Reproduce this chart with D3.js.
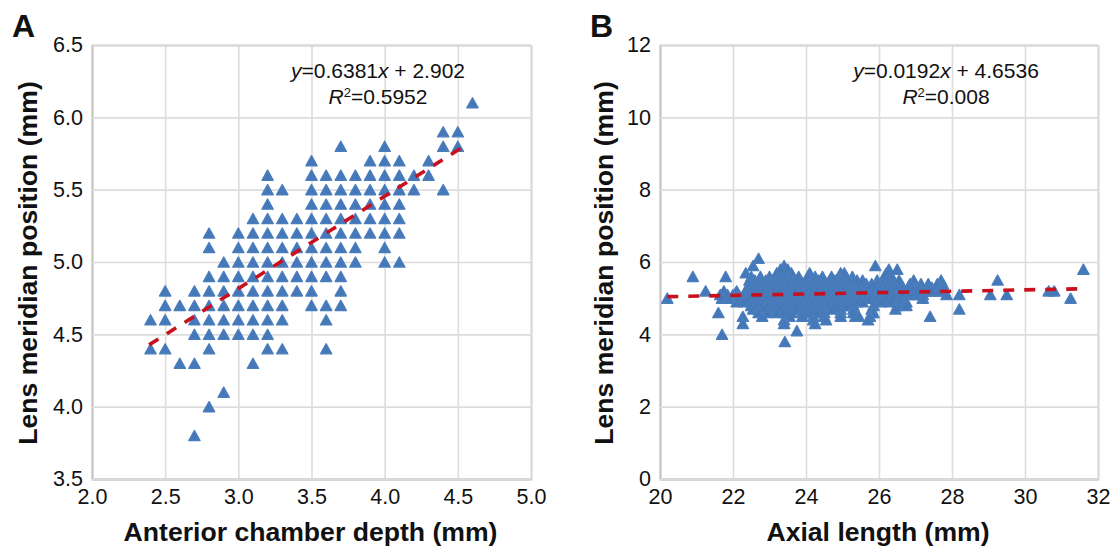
<!DOCTYPE html>
<html><head><meta charset="utf-8">
<script src="https://cdn.jsdelivr.net/npm/d3@7/dist/d3.min.js"></script>
<style>html,body{margin:0;padding:0;background:#fff}svg{display:block}text{font-family:"Liberation Sans",Arial,sans-serif;fill:#111}</style>
</head><body><svg id="c" width="1112" height="546"></svg>
<script>
// Panel A: rows of [lens meridian position, anterior chamber depths]
const rowsA = [
[6.1,[4.6]],
[5.9,[4.4,4.5]],
[5.8,[3.7,4.0,4.4,4.5]],
[5.7,[3.5,3.9,4.0,4.1,4.3]],
[5.6,[3.2,3.5,3.6,3.7,3.8,3.9,4.0,4.1,4.2,4.3]],
[5.5,[3.2,3.3,3.5,3.6,3.7,3.8,3.9,4.0,4.1,4.2,4.4]],
[5.4,[3.2,3.5,3.6,3.7,3.8,3.9,4.0,4.1]],
[5.3,[3.1,3.2,3.3,3.4,3.5,3.6,3.7,3.8,3.9,4.0,4.1]],
[5.2,[2.8,3.0,3.1,3.2,3.3,3.4,3.5,3.6,3.7,3.8,3.9,4.0,4.1]],
[5.1,[2.8,3.0,3.1,3.2,3.3,3.4,3.5,3.6,3.7,3.8,4.0]],
[5.0,[2.9,3.0,3.1,3.2,3.3,3.4,3.5,3.6,3.7,3.8,4.0,4.1]],
[4.9,[2.8,2.9,3.0,3.1,3.2,3.3,3.4,3.5,3.6,3.7]],
[4.8,[2.5,2.7,2.8,2.9,3.0,3.1,3.2,3.3,3.4,3.5,3.7]],
[4.7,[2.5,2.6,2.7,2.8,2.9,3.0,3.1,3.2,3.3,3.5,3.6,3.7]],
[4.6,[2.4,2.5,2.7,2.8,2.9,3.0,3.1,3.2,3.3,3.6]],
[4.5,[2.7,2.8,2.9,3.0,3.1,3.2]],
[4.4,[2.4,2.5,2.8,3.2,3.3,3.6]],
[4.3,[2.6,2.7,3.1]],
[4.1,[2.9]],
[4.0,[2.8]],
[3.8,[2.7]]
];
// Panel B: rows of [lens meridian position, axial lengths]
const rowsB = [
[6.1,[22.7]],
[5.9,[22.55,23.4,25.9]],
[5.8,[23.3,23.5,26.27,26.5,31.6]],
[5.7,[22.35,23.2,23.6,24.1,24.95,25.05,26.2]],
[5.6,[20.9,21.8,22.5,22.75,23.0,23.25,23.4,23.55,23.8,24.05,24.25,24.45,24.7,24.95,25.1,25.27,26.15,26.35]],
[5.5,[22.45,22.6,22.75,22.9,23.05,23.2,23.35,23.5,23.7,23.85,24.0,24.2,24.35,24.5,24.65,24.8,24.95,25.15,25.3,25.4,25.55,25.95,26.25,26.55,26.95,27.7,29.25]],
[5.4,[22.45,22.6,22.75,22.9,23.05,23.2,23.35,23.5,23.65,23.8,23.95,24.1,24.25,24.4,24.55,24.7,24.85,25.0,25.1,25.65,25.8,25.95,26.1,26.25,26.4,26.6,26.85,27.15,27.35,27.6,27.75]],
[5.3,[22.4,22.55,22.7,22.85,23.0,23.15,23.3,23.45,23.6,23.75,23.9,24.05,24.2,24.35,24.5,24.65,24.8,24.95,25.1,25.3,25.45,25.6,25.75,25.9,26.05,26.2,26.35,26.5,26.65,26.8,26.95,27.1,27.3,27.45,27.75]],
[5.2,[21.25,21.75,22.1,22.35,22.5,22.65,22.8,22.95,23.1,23.25,23.4,23.55,23.7,23.85,24.0,24.15,24.3,24.45,24.6,24.75,24.9,25.05,25.2,25.35,25.5,25.65,25.8,25.95,26.1,26.25,26.4,26.55,26.7,26.85,27.0,27.15,27.3,27.45,27.65,27.8,30.65,30.8]],
[5.1,[21.65,21.85,22.0,22.15,22.3,22.45,22.6,22.75,22.9,23.05,23.2,23.35,23.5,23.65,23.8,23.95,24.1,24.25,24.4,24.55,24.7,24.85,25.0,25.15,25.3,25.45,25.6,25.75,25.9,26.05,26.2,26.35,26.5,26.65,26.8,26.95,27.1,27.2,27.85,28.2,29.05,29.5]],
[5.0,[20.2,21.7,21.9,22.15,22.3,22.45,22.6,22.75,22.9,23.05,23.2,23.35,23.5,23.65,23.8,23.95,24.1,24.25,24.4,24.55,24.7,24.85,25.0,25.15,25.3,25.45,25.6,25.75,25.9,26.05,26.2,26.35,26.55,27.2,31.25]],
[4.9,[22.1,22.3,22.5,22.65,22.8,22.95,23.1,23.25,23.4,23.55,23.7,23.85,24.0,24.15,24.3,24.45,24.6,24.75,24.9,25.05,25.2,25.4,25.55,26.05,26.3,26.5,26.75]],
[4.8,[22.5,22.65,22.8,22.95,23.1,23.25,23.4,23.55,23.7,23.85,24.0,24.15,24.3,24.45,24.6,24.75,24.9,25.05,25.15,25.3,25.85,26.5,26.75]],
[4.7,[22.55,22.7,22.85,23.0,23.15,23.3,23.45,23.6,23.75,23.9,24.05,24.2,24.35,24.5,24.7,24.95,25.3,25.8,26.45,28.2]],
[4.6,[21.6,22.7,22.95,23.2,23.4,23.6,23.9,24.1,24.3,24.5,24.95,25.3,25.8,25.85]],
[4.5,[22.27,22.8,23.5,23.55,23.9,24.2,24.5,24.95,25.35,25.45,25.75,27.4]],
[4.4,[23.4,24.2,24.55,25.7]],
[4.3,[22.27,23.4,24.25]],
[4.1,[23.75]],
[4.0,[21.7]],
[3.8,[23.42]]
];
const ticksAx = [2.0,2.5,3.0,3.5,4.0,4.5,5.0];
const ticksAy = [3.5,4.0,4.5,5.0,5.5,6.0,6.5];
const ticksBx = [20,22,24,26,28,30,32];
const ticksBy = [0,2,4,6,8,10,12];
const fitA = {slope:0.6381, intercept:2.902, from:2.39, to:4.54};
const fitB = {slope:0.0192, intercept:4.6536, from:20.2, to:31.55};

const svg = d3.select('#c');
const triangle = {draw(ctx,size){
  const w = Math.sqrt(size), h = w*0.9;
  ctx.moveTo(0,-h/2); ctx.lineTo(w/2,h/2); ctx.lineTo(-w/2,h/2); ctx.closePath();
}};
const sym = d3.symbol().type(triangle).size(125);

function panel(o){
  const x = d3.scaleLinear().domain(o.xd).range([o.l,o.r]);
  const y = d3.scaleLinear().domain(o.yd).range([479,45]);
  const g = svg.append('g');
  const gx = g.append('g').attr('transform','translate(0,479)')
    .call(d3.axisBottom(x).tickValues(o.tx).tickFormat(o.fx).tickSize(-434).tickPadding(10));
  const gy = g.append('g').attr('transform',`translate(${o.l},0)`)
    .call(d3.axisLeft(y).tickValues(o.ty).tickFormat(o.fy).tickSize(-(o.r-o.l)).tickPadding(9));
  [gx,gy].forEach(a=>{
    a.selectAll('.tick line').attr('stroke','#dcdcdc').attr('stroke-width',1.6);
    a.select('.domain').attr('stroke','#c6c6c6').attr('stroke-width',1.8);
    a.selectAll('text').attr('font-size',21.5).style('font-family','"Liberation Sans",Arial,sans-serif').attr('fill','#111');
  });
  const pts = o.rows.flatMap(([v,xs])=>xs.map(u=>[u,v]));
  g.append('g').selectAll('path').data(pts).join('path')
    .attr('d',sym).attr('transform',d=>`translate(${x(d[0])},${y(d[1])})`)
    .attr('fill','#4478b8').attr('stroke','#4a7dbc').attr('stroke-width',1.4).attr('stroke-linejoin','round');
  const f = o.fit;
  g.append('line')
    .attr('x1',x(f.from)).attr('y1',y(f.slope*f.from+f.intercept))
    .attr('x2',x(f.to)).attr('y2',y(f.slope*f.to+f.intercept))
    .attr('stroke','#c8101e').attr('stroke-width',3.6).attr('stroke-dasharray','11 10');
  g.append('text').attr('x',o.xtx).attr('y',541).attr('text-anchor','middle')
    .attr('font-size',26.6).attr('font-weight','bold').text(o.xt);
  g.append('text').attr('transform',`translate(${o.ytx},263) rotate(-90)`).attr('text-anchor','middle')
    .attr('font-size',26.6).attr('font-weight','bold').text('Lens meridian position (mm)');
  g.append('text').attr('x',o.px).attr('y',37).attr('font-size',32).attr('font-weight','bold').text(o.p);
  const e1 = g.append('text').attr('x',o.ex).attr('y',78).attr('text-anchor','middle').attr('font-size',21);
  e1.append('tspan').attr('font-style','italic').text('y');
  e1.append('tspan').text(o.e1a);
  e1.append('tspan').attr('font-style','italic').text('x');
  e1.append('tspan').text(o.e1b);
  const e2 = g.append('text').attr('x',o.ex).attr('y',104).attr('text-anchor','middle').attr('font-size',21);
  e2.append('tspan').attr('font-style','italic').text('R');
  e2.append('tspan').attr('font-size',13).attr('dy',-7).text('2');
  e2.append('tspan').attr('dy',7).text(o.e2);
}
panel({l:92,r:531,xd:[2,5],yd:[3.5,6.5],tx:ticksAx,ty:ticksAy,fx:d3.format('.1f'),fy:d3.format('.1f'),
  rows:rowsA,fit:fitA,xt:'Anterior chamber depth (mm)',xtx:310.5,ytx:37,p:'A',px:12,ex:378,
  e1a:'=0.6381',e1b:' + 2.902',e2:'=0.5952'});
panel({l:660,r:1098,xd:[20,32],yd:[0,12],tx:ticksBx,ty:ticksBy,fx:d3.format('d'),fy:d3.format('d'),
  rows:rowsB,fit:fitB,xt:'Axial length (mm)',xtx:878,ytx:613,p:'B',px:590,ex:946,
  e1a:'=0.0192',e1b:' + 4.6536',e2:'=0.008'});
</script></body></html>
